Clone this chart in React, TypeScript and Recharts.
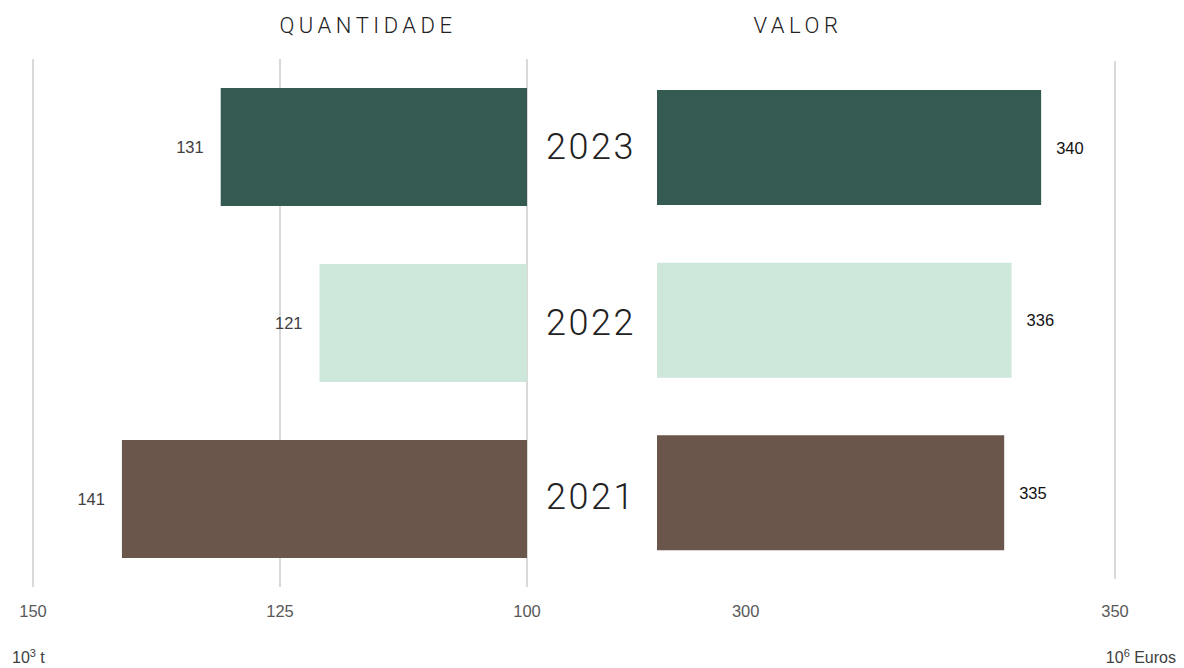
import React from 'react';
import { BarChart, Bar, XAxis, YAxis, CartesianGrid, Cell, LabelList, ReferenceLine } from 'recharts';

const years = ['2023', '2022', '2021'];
const quantidade = [131, 121, 141];
const valor = [340, 336, 335];
const colors = ['#345a51', '#cde7db', '#6b564c'];
const qTicks = [150, 125, 100];
const vTicks = [300, 350];
const vGrid = 350;
const qDomain: [number, number] = [100, 150];
const vDomain: [number, number] = [288, 350];

const qData = years.map((y, i) => ({ year: y, value: quantidade[i] }));
const vData = years.map((y, i) => ({ year: y, value: valor[i] }));

const tickFont = 'Liberation Sans, Arial, sans-serif';

const QLabel = (props: any) => {
  const { x, y, width, height, value } = props;
  const left = Math.min(x, x + width);
  return (
    <text x={left - 17} y={y + height / 2} textAnchor="end" dominantBaseline="central"
      fontFamily={tickFont} fontSize={16.5} fill="#404040">{value}</text>
  );
};

const VLabel = (props: any) => {
  const { x, y, width, height, value } = props;
  const right = Math.max(x, x + width);
  return (
    <text x={right + 15} y={y + height / 2} textAnchor="start" dominantBaseline="central"
      fontFamily={tickFont} fontSize={16.5} fill="#111">{value}</text>
  );
};

const makeTick = (dyPx: number) => (props: any) => {
  const { x, y, payload } = props;
  return (
    <text x={x} y={y + dyPx} textAnchor="middle" dominantBaseline="central"
      fontFamily={tickFont} fontSize={16.5} fill="#595959">{payload.value}</text>
  );
};

const titleStyle: React.CSSProperties = {
  position: 'absolute', fontFamily: 'Roboto, sans-serif', fontWeight: 300,
  fontSize: 22, letterSpacing: 4.5, color: '#222', transform: 'translate(-50%, -50%)', whiteSpace: 'nowrap',
};
const yearStyle: React.CSSProperties = {
  position: 'absolute', fontFamily: 'Roboto, sans-serif', fontWeight: 300,
  fontSize: 36, letterSpacing: 2.5, color: '#222', transform: 'translate(-50%, -50%)', whiteSpace: 'nowrap',
};
const unitStyle: React.CSSProperties = {
  position: 'absolute', fontFamily: tickFont, fontSize: 16, color: '#404040', whiteSpace: 'nowrap',
};

const yearCenters = [147, 323, 497];

export default function App() {
  return (
    <div style={{ position: 'absolute', left: 0, top: 0, width: 1184, height: 668, background: '#fff', overflow: 'hidden' }}>
      <div style={{ position: 'absolute', left: 0, top: 0 }}>
        <BarChart width={560} height={668} data={qData} layout="vertical"
          margin={{ top: 59, left: 33, right: 33, bottom: 51 }} barSize={118}>
          <CartesianGrid horizontal={false} vertical={true} stroke="#d9d9d9" strokeWidth={2} />
          <XAxis type="number" domain={qDomain} reversed ticks={qTicks} axisLine={false} tickLine={false}
            height={30} tick={makeTick(16)} interval={0} allowDataOverflow />
          <YAxis type="category" dataKey="year" hide />
          <Bar dataKey="value" isAnimationActive={false}>
            {qData.map((d, i) => <Cell key={d.year} fill={colors[i]} />)}
            <LabelList dataKey="value" content={QLabel} />
          </Bar>
        </BarChart>
      </div>
      <div style={{ position: 'absolute', left: 0, top: 0 }}>
        <BarChart width={1184} height={668} data={vData} layout="vertical"
          margin={{ top: 61, left: 657, right: 69, bottom: 59 }} barSize={115}>
          <XAxis type="number" domain={vDomain} ticks={vTicks} axisLine={false} tickLine={false}
            height={30} tick={makeTick(24)} interval={0} allowDataOverflow />
          <YAxis type="category" dataKey="year" width={0} axisLine={{ stroke: '#d9d9d9', strokeWidth: 2 }}
            tickLine={false} tick={false} />
          <ReferenceLine x={vGrid} stroke="#d9d9d9" strokeWidth={2} />
          <Bar dataKey="value" isAnimationActive={false}>
            {vData.map((d, i) => <Cell key={d.year} fill={colors[i]} />)}
            <LabelList dataKey="value" content={VLabel} />
          </Bar>
        </BarChart>
      </div>
      <div style={{ ...titleStyle, left: 368, top: 25 }}>QUANTIDADE</div>
      <div style={{ ...titleStyle, left: 798, top: 25 }}>VALOR</div>
      {years.map((y, i) => (
        <div key={y} style={{ ...yearStyle, left: 591, top: yearCenters[i] }}>{y}</div>
      ))}
      <div style={{ ...unitStyle, left: 12, top: 647 }}>10<sup style={{ fontSize: 11 }}>3</sup> t</div>
      <div style={{ ...unitStyle, right: 8, top: 647 }}>10<sup style={{ fontSize: 11 }}>6</sup> Euros</div>
    </div>
  );
}
